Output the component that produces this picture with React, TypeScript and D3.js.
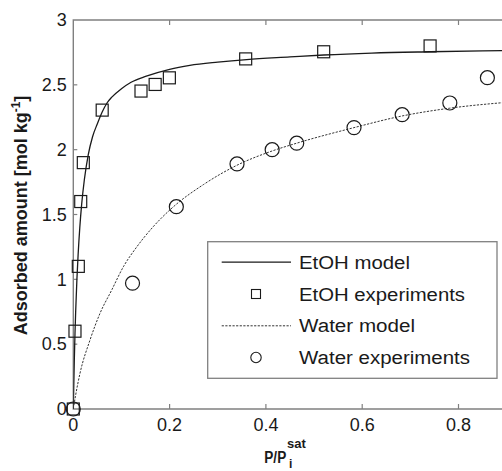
import React from "react";
import * as d3 from "d3";

const etohExpX = [0, 0.0035, 0.0104, 0.0154, 0.0208, 0.06, 0.1406, 0.17, 0.1995, 0.358, 0.52, 0.741];
const etohExpY = [0, 0.6, 1.1, 1.6, 1.9, 2.305, 2.452, 2.503, 2.554, 2.7, 2.755, 2.8];

const waterExpX = [0, 0.123, 0.214, 0.34, 0.413, 0.464, 0.583, 0.683, 0.782, 0.86];
const waterExpY = [0, 0.97, 1.56, 1.89, 2.0, 2.05, 2.17, 2.27, 2.36, 2.555];

const etohModelX = [0, 0.002, 0.0035, 0.005, 0.0075, 0.01, 0.0135, 0.0174, 0.023, 0.031, 0.04, 0.05, 0.06, 0.07, 0.08, 0.1, 0.12, 0.15, 0.2, 0.242, 0.3, 0.36, 0.45, 0.52, 0.62, 0.74, 0.85, 0.95];
const etohModelY = [0, 0.36, 0.58, 0.76, 1.0, 1.19, 1.40, 1.58, 1.77, 1.96, 2.1, 2.2, 2.29, 2.36, 2.405, 2.47, 2.52, 2.565, 2.62, 2.65, 2.675, 2.695, 2.715, 2.73, 2.745, 2.755, 2.762, 2.767];

const waterModelX = [0, 0.005, 0.0139, 0.0347, 0.0555, 0.0797, 0.104, 0.132, 0.166, 0.208, 0.27, 0.34, 0.413, 0.464, 0.583, 0.683, 0.782, 0.9];
const waterModelY = [0, 0.11, 0.275, 0.532, 0.738, 0.917, 1.097, 1.251, 1.406, 1.56, 1.73, 1.88, 1.99, 2.05, 2.17, 2.26, 2.32, 2.365];

const xTicks = [0, 0.2, 0.4, 0.6, 0.8];
const xTickLabels = ["0", "0.2", "0.4", "0.6", "0.8"];
const yTicks = [0, 0.5, 1, 1.5, 2, 2.5, 3];
const yTickLabels = ["0", "0.5", "1", "1.5", "2", "2.5", "3"];

const legendLabels = ["EtOH model", "EtOH experiments", "Water model", "Water experiments"];
const legendLengths = [111, 166, 116, 171];

const W = 502;
const H = 471;
const FONT = "'Liberation Sans', Arial, Helvetica, sans-serif";
const AXIS = "#808080";
const INK = "#1a1a1a";

export default function App() {
  const x = d3.scaleLinear().domain([0, 1]).range([73.3, 554.8]);
  const y = d3.scaleLinear().domain([0, 3]).range([409, 20]);
  const left = x(0);
  const top = y(3);
  const bottom = y(0);

  const line = d3
    .line<[number, number]>()
    .x((d) => x(d[0]))
    .y((d) => y(d[1]))
    .curve(d3.curveMonotoneX);

  const etohModel = line(etohModelX.map((v, i) => [v, etohModelY[i]] as [number, number])) || "";
  const waterModel = line(waterModelX.map((v, i) => [v, waterModelY[i]] as [number, number])) || "";

  const sq = 12;
  const lgX = 207.7;
  const lgY = 241.7;
  const rowTextY = [268.7, 300.5, 332.3, 364];
  const rowMidY = rowTextY.map((t) => t - 6.5);

  return (
    <svg
      width={W}
      height={H}
      style={{ position: "absolute", left: 0, top: 0, background: "#fff" }}
      fontFamily={FONT}
    >
      <defs>
        <clipPath id="plotclip">
          <rect x={left} y={top} width={W - left} height={bottom - top} />
        </clipPath>
      </defs>
      <rect x={0} y={0} width={W} height={H} fill="#fff" />

      {/* frame */}
      <path
        d={`M${W},${top}H${left}V${bottom}H${W}`}
        fill="none"
        stroke={AXIS}
        strokeWidth={1.4}
      />
      {xTicks.map((t, i) => (
        <g key={"xt" + i}>
          {t > 0 && <line x1={x(t)} x2={x(t)} y1={bottom} y2={bottom - 5} stroke={AXIS} strokeWidth={1.2} />}
          {t > 0 && <line x1={x(t)} x2={x(t)} y1={top} y2={top + 5} stroke={AXIS} strokeWidth={1.2} />}
          <text x={x(t)} y={431} textAnchor="middle" fontSize={18} fill={INK}>
            {xTickLabels[i]}
          </text>
        </g>
      ))}
      {yTicks.map((t, i) => (
        <g key={"yt" + i}>
          {t > 0 && t < 3 && <line x1={left} x2={left + 4} y1={y(t)} y2={y(t)} stroke={AXIS} strokeWidth={1.2} />}
          <text x={66.7} y={y(t) + 6.3} textAnchor="end" fontSize={18} fill={INK}>
            {yTickLabels[i]}
          </text>
        </g>
      ))}

      {/* curves */}
      <g clipPath="url(#plotclip)">
        <path d={etohModel} fill="none" stroke={INK} strokeWidth={1.3} />
        <path d={waterModel} fill="none" stroke="#333" strokeWidth={1} strokeDasharray="2.2,1.4" />
      </g>

      {/* markers */}
      {etohExpX.map((v, i) => (
        <rect
          key={"s" + i}
          x={x(v) - sq / 2}
          y={y(etohExpY[i]) - sq / 2}
          width={sq}
          height={sq}
          fill="none"
          stroke={INK}
          strokeWidth={1.2}
        />
      ))}
      {waterExpX.map((v, i) => (
        <circle key={"c" + i} cx={x(v)} cy={y(waterExpY[i])} r={7} fill="none" stroke={INK} strokeWidth={1.2} />
      ))}

      {/* legend */}
      <rect x={lgX} y={lgY} width={497 - lgX} height={378.3 - lgY} fill="#fff" stroke={AXIS} strokeWidth={1.3} />
      <line x1={221.7} x2={291} y1={rowMidY[0]} y2={rowMidY[0]} stroke={INK} strokeWidth={1.2} />
      <rect x={256 - 4.5} y={rowMidY[1] - 4.5} width={9} height={9} fill="none" stroke={INK} strokeWidth={1.1} />
      <line x1={221.7} x2={291} y1={rowMidY[2]} y2={rowMidY[2]} stroke="#333" strokeWidth={1} strokeDasharray="2.2,1.4" />
      <circle cx={256} cy={rowMidY[3]} r={5.2} fill="none" stroke={INK} strokeWidth={1.1} />
      {legendLabels.map((l, i) => (
        <text
          key={"lg" + i}
          x={299}
          y={rowTextY[i]}
          fontSize={18}
          fill={INK}
          textLength={legendLengths[i]}
          lengthAdjust="spacingAndGlyphs"
        >
          {l}
        </text>
      ))}

      {/* axis titles */}
      <text
        transform={`translate(27,215.5) rotate(-90)`}
        textAnchor="middle"
        fontSize={18}
        fontWeight="bold"
        fill={INK}
      >
        Adsorbed amount [mol kg
        <tspan fontSize={12} dy={-7}>
          -1
        </tspan>
        <tspan dy={7}>]</tspan>
      </text>
      <text transform="translate(264.3,463) scale(0.8,1)" fontSize={17} fontWeight="bold" fill={INK}>
        P/P
      </text>
      <text x={287} y={448} fontSize={13} fontWeight="bold" fill={INK}>
        sat
      </text>
      <text x={289} y={468} fontSize={12} fontWeight="bold" fill={INK}>
        i
      </text>
    </svg>
  );
}
